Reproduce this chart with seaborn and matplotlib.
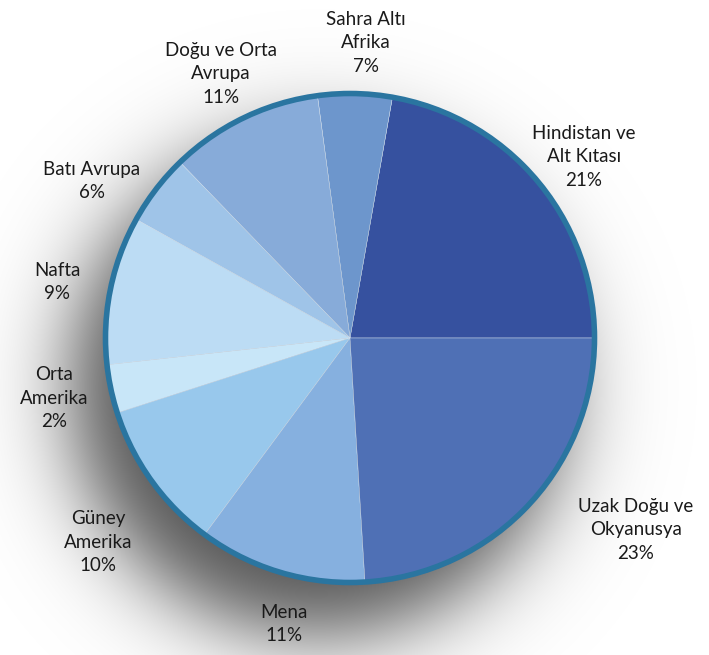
"""Pie chart of regional shares with a soft drop shadow"""
import matplotlib
matplotlib.use('Agg')
import matplotlib.pyplot as plt
import seaborn as sns
import numpy as np
from matplotlib.patches import Circle

# Slice sizes, labels as printed on it
regions = ['Hindistan ve\nAlt Kıtası', 'Sahra Altı\nAfrika', 'Doğu ve Orta\nAvrupa',
           'Batı Avrupa', 'Nafta', 'Orta\nAmerika', 'Güney\nAmerika', 'Mena',
           'Uzak Doğu ve\nOkyanusya']
shares = [22.2, 4.9, 10.1, 4.7, 9.8, 3.2, 9.9, 11.1, 24.0]
printed = ['21%', '7%', '11%', '6%', '9%', '2%', '10%', '11%', '23%']
colors = ['#36519f', '#6d96cc', '#87abd9', '#9fc4e8', '#bcdcf4', '#c8e6f8',
          '#98c8ec', '#86b0df', '#4f70b5']

# label centres in pixels (from the top-left of the image)
label_pos = [(584, 157), (366, 43), (221, 74), (92, 181), (57, 282),
             (54, 398), (98, 542), (284, 624), (636, 530)]

sns.set_style('white')
plt.rcParams['font.family'] = ['Lato', 'DejaVu Sans']

W, H = 709, 655
cx, cy, R = 350, H - 338, 243

figure = plt.figure(figsize=(W / 100, H / 100), dpi=100)
axes = figure.add_axes([0, 0, 1, 1])

# Soft shadow down and to the left of the pie
xs, ys = np.meshgrid(np.arange(W) + 0.5, np.arange(H) + 0.5)
d = np.hypot(xs - (cx - 32), ys - (cy - 50)) - (R + 2)
alpha = 0.68 / (1 + np.exp(d / 26.0))
shadow = np.zeros((H, W, 4))
shadow[..., 3] = alpha
axes.imshow(shadow, extent=(0, W, 0, H), origin='lower', zorder=0,
            interpolation='bilinear')

wedges, _ = axes.pie(shares, colors=colors, startangle=0, counterclock=True,
                     center=(cx, cy), radius=R, frame=True,
                     wedgeprops=dict(linewidth=0.3, edgecolor='#d8e4f0'))
for w in wedges:
    w.set_zorder(2)
axes.add_patch(Circle((cx, cy), R + 1.5, fill=False, edgecolor='#2a75a0',
                      linewidth=4.0, zorder=3))
axes.set_xlim(0, W)
axes.set_ylim(0, H)
axes.set_aspect('equal')
axes.axis('off')

for name, pct, (x, y) in zip(regions, printed, label_pos):
    axes.text(x, H - y, f'{name}\n{pct}', ha='center', va='center',
              fontsize=13.5, color='#1a1a1a', linespacing=1.45, zorder=4)

figure.savefig('out.png', dpi=100)
